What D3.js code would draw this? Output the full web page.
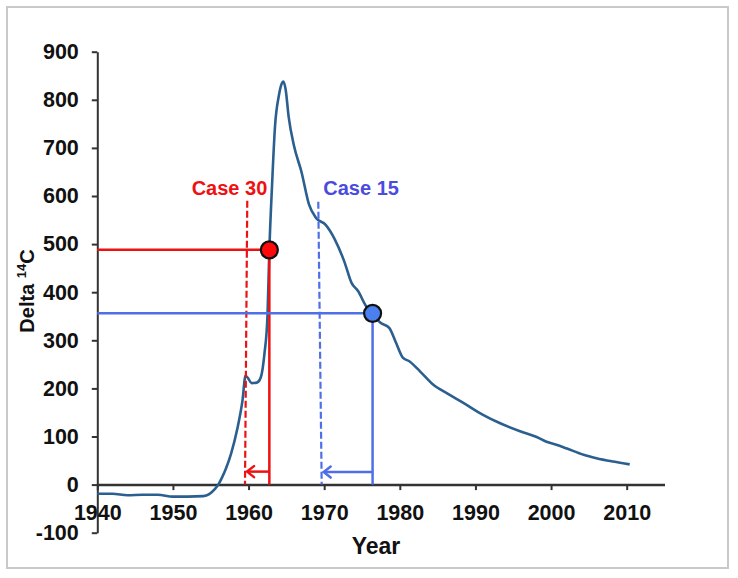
<!DOCTYPE html>
<html>
<head>
<meta charset="utf-8">
<script src="https://cdn.jsdelivr.net/npm/d3@7/dist/d3.min.js"></script>
<style>
  html, body { margin: 0; padding: 0; background: #fff; }
  svg { display: block; }
  text { font-family: "Liberation Sans", Arial, sans-serif; font-weight: bold; }
</style>
</head>
<body>
<svg id="chart" width="738" height="578"></svg>
<script>
// ---- data ----
const years = [1940, 1942, 1944, 1946, 1948, 1950, 1952, 1954, 1954.8, 1955.5, 1956, 1956.5, 1957, 1957.7, 1958.5, 1959.2, 1959.6, 1959.9, 1960.4, 1961.1, 1961.6, 1962.1, 1962.5, 1962.75, 1963.1, 1963.5, 1964.0, 1964.35, 1964.6, 1964.9, 1965.3, 1966, 1967, 1968, 1968.9, 1970.2, 1971.4, 1972.7, 1973.6, 1974.5, 1975.5, 1976.4, 1977.4, 1978.6, 1979.5, 1980.4, 1981.3, 1982.7, 1984.4, 1986.2, 1988.4, 1991, 1993.2, 1995.9, 1998.1, 1999.4, 2000.7, 2002.1, 2004.3, 2006, 2008.2, 2010.4];
const delta14C = [-19, -19, -22, -21, -21, -25, -25, -24, -20, -10, 0, 15, 33, 65, 115, 175, 226, 222, 211, 212, 222, 272, 350, 488, 620, 745, 808, 832, 838, 822, 765, 705, 650, 582, 555, 540, 510, 462, 420, 402, 372, 356, 337, 326, 295, 264, 256, 235, 208, 190, 170, 145, 128, 111, 99, 89, 83, 75, 62, 55, 48, 42];

const xTicks = [1940, 1950, 1960, 1970, 1980, 1990, 2000, 2010];
const yTicks = [-100, 0, 100, 200, 300, 400, 500, 600, 700, 800, 900];

const caseNames = ["Case 30", "Case 15"];
const caseYear = [1962.75, 1976.4];        // measured year (dot)
const caseValue = [488, 356];              // measured delta 14C
const caseRefYearTop = [1959.83, 1969.22]; // dashed line at top
const caseRefYearBottom = [1959.53, 1969.67]; // dashed line at bottom
const caseRefTop = [590, 588];             // dashed line top value
const caseArrowValue = [27, 26];
const caseColors = ["#ee1111", "#4f6fe6"];
const caseDotColors = ["#ff0a0a", "#4a80f0"];
const caseTextColors = ["#ee1111", "#4b4be0"];

// ---- layout ----
const svg = d3.select("#chart");
const x = d3.scaleLinear().domain([1940, 2015]).range([97.3, 664.5]);
const y = d3.scaleLinear().domain([-100, 900]).range([532.7, 51.7]);

// border
svg.append("rect").attr("x", 7).attr("y", 7).attr("width", 721).attr("height", 561)
  .attr("fill", "#fff").attr("stroke", "#c9c9c9").attr("stroke-width", 2);

const axisColor = "#333";

// y axis
const yAxis = svg.append("g").attr("transform", `translate(${x(1940)},0)`)
  .call(d3.axisLeft(y).tickValues(yTicks).tickSize(5.5).tickPadding(13).tickSizeOuter(0)
    .tickFormat(d => String(d)));
yAxis.select(".domain").attr("stroke", axisColor).attr("stroke-width", 2);
yAxis.selectAll(".tick line").attr("stroke", axisColor).attr("stroke-width", 2);
yAxis.selectAll(".tick text").attr("font-size", 21.5).attr("fill", "#111")
  .attr("font-family", "Liberation Sans, Arial, sans-serif").attr("font-weight", "bold");

// x axis at y=0
const xAxis = svg.append("g").attr("transform", `translate(0,${y(0)})`)
  .call(d3.axisBottom(x).tickValues(xTicks).tickSize(5.5).tickPadding(15).tickSizeOuter(0)
    .tickFormat(d => String(d)));
xAxis.select(".domain").attr("stroke", axisColor).attr("stroke-width", 2.5);
xAxis.selectAll(".tick line").attr("stroke", axisColor).attr("stroke-width", 2);
xAxis.selectAll(".tick text").attr("font-size", 21.5).attr("fill", "#111")
  .attr("font-family", "Liberation Sans, Arial, sans-serif").attr("font-weight", "bold");

// axis titles
svg.append("text").attr("x", 376).attr("y", 554).attr("text-anchor", "middle")
  .attr("font-size", 23).attr("fill", "#111").text("Year");
const yt = svg.append("text").attr("transform", "translate(34,291) rotate(-90)")
  .attr("text-anchor", "middle").attr("font-size", 20).attr("fill", "#111");
yt.append("tspan").text("Delta ");
yt.append("tspan").attr("font-size", 13).attr("dy", -8).text("14");
yt.append("tspan").attr("dy", 8).text("C");

// curve
const pts = years.map((yr, i) => [yr, delta14C[i]]);
const line = d3.line().x(d => x(d[0])).y(d => y(d[1])).curve(d3.curveMonotoneX);
svg.append("path").datum(pts).attr("d", line).attr("fill", "none")
  .attr("stroke", "#2b5f8f").attr("stroke-width", 2.6).attr("stroke-linejoin", "round");

// annotations
caseNames.forEach((name, i) => {
  const c = caseColors[i];
  const g = svg.append("g");
  // horizontal
  g.append("line").attr("x1", x(1940)).attr("x2", x(caseYear[i]))
    .attr("y1", y(caseValue[i])).attr("y2", y(caseValue[i]))
    .attr("stroke", c).attr("stroke-width", 2.5);
  // vertical solid
  g.append("line").attr("x1", x(caseYear[i])).attr("x2", x(caseYear[i]))
    .attr("y1", y(caseValue[i])).attr("y2", y(0))
    .attr("stroke", c).attr("stroke-width", 2.5);
  // dashed reference
  g.append("line").attr("x1", x(caseRefYearTop[i])).attr("x2", x(caseRefYearBottom[i]))
    .attr("y1", y(caseRefTop[i])).attr("y2", y(0))
    .attr("stroke", c).attr("stroke-width", 2.2).attr("stroke-dasharray", "7,3");
  // arrow
  const ay = y(caseArrowValue[i]);
  const ax0 = x(caseYear[i]), ax1 = x(caseRefYearBottom[i]) + 2;
  g.append("line").attr("x1", ax0).attr("x2", ax1).attr("y1", ay).attr("y2", ay)
    .attr("stroke", c).attr("stroke-width", 2.5);
  g.append("path").attr("d", `M${ax1 + 7},${ay - 5.5} L${ax1},${ay} L${ax1 + 7},${ay + 5.5}`)
    .attr("fill", "none").attr("stroke", c).attr("stroke-width", 2.5).attr("stroke-linecap", "round");
  // dot
  g.append("circle").attr("cx", x(caseYear[i])).attr("cy", y(caseValue[i])).attr("r", 8.5)
    .attr("fill", caseDotColors[i]).attr("stroke", "#111").attr("stroke-width", 2.2);
  // label
  const lx = i === 0 ? x(caseRefYearTop[i]) + 20 : x(caseRefYearTop[i]) + 5;
  svg.append("text").attr("x", lx).attr("y", 194.5)
    .attr("text-anchor", i === 0 ? "end" : "start")
    .attr("font-size", 20).attr("fill", caseTextColors[i]).text(name);
});
</script>
</body>
</html>
